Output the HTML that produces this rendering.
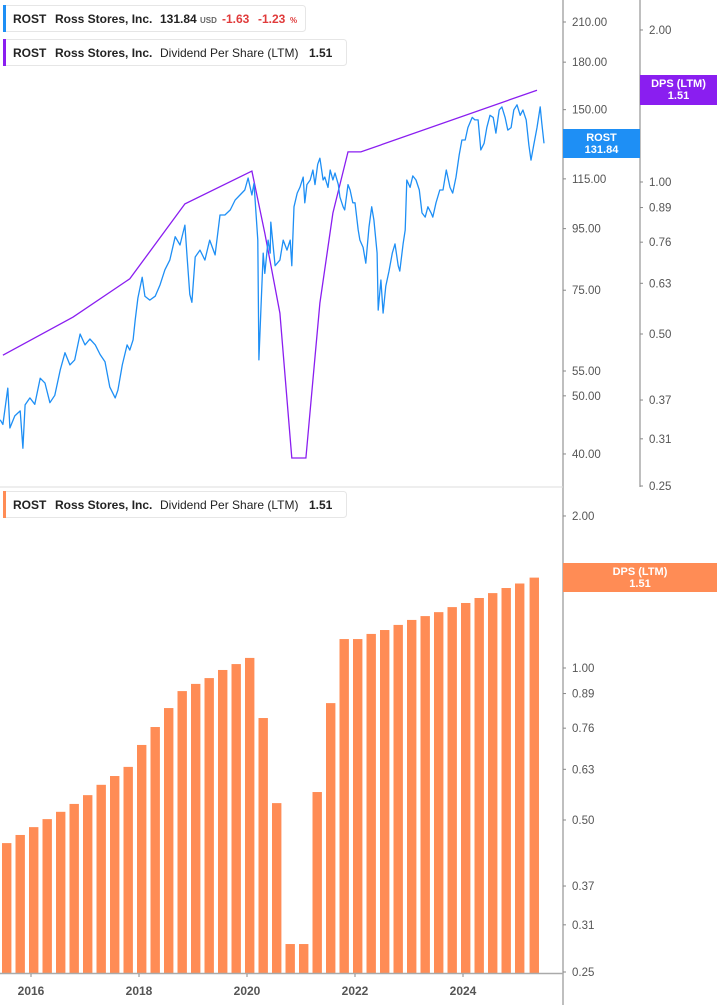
<!DOCTYPE html>
<html><head><meta charset="utf-8"><style>
body{margin:0;background:#fff;font-family:"Liberation Sans",sans-serif;}
svg{display:block}
.tk{font-size:11.5px;fill:#555}
.lg{font-size:12px;fill:#222;font-weight:bold}
.lgn{font-size:12px;fill:#222}
.yr{font-size:12px;fill:#555;font-weight:bold}
</style></head><body>
<svg id="c" width="717" height="1005"></svg>
<script>
const priceDates=[2015.43,2015.48,2015.57,2015.61,2015.70,2015.80,2015.85,2015.89,2015.98,2016.07,2016.17,2016.26,2016.35,2016.44,2016.54,2016.63,2016.72,2016.81,2016.91,2017.00,2017.09,2017.19,2017.28,2017.37,2017.46,2017.56,2017.61,2017.69,2017.78,2017.83,2017.89,2017.93,2017.98,2018.06,2018.11,2018.20,2018.30,2018.39,2018.48,2018.57,2018.67,2018.76,2018.85,2018.89,2018.94,2018.98,2019.04,2019.13,2019.22,2019.31,2019.41,2019.50,2019.59,2019.69,2019.78,2019.87,2019.96,2020.02,2020.09,2020.13,2020.20,2020.22,2020.26,2020.30,2020.33,2020.39,2020.43,2020.44,2020.52,2020.61,2020.67,2020.74,2020.80,2020.83,2020.87,2020.93,2020.98,2021.04,2021.07,2021.11,2021.17,2021.22,2021.26,2021.31,2021.35,2021.41,2021.44,2021.50,2021.54,2021.59,2021.63,2021.69,2021.72,2021.78,2021.81,2021.87,2021.91,2021.96,2022.00,2022.06,2022.09,2022.15,2022.20,2022.26,2022.31,2022.35,2022.41,2022.43,2022.48,2022.52,2022.57,2022.63,2022.69,2022.74,2022.80,2022.83,2022.89,2022.93,2022.96,2023.02,2023.07,2023.13,2023.19,2023.24,2023.30,2023.35,2023.41,2023.44,2023.50,2023.57,2023.63,2023.69,2023.76,2023.81,2023.87,2023.93,2023.98,2024.04,2024.09,2024.17,2024.22,2024.28,2024.33,2024.39,2024.44,2024.50,2024.56,2024.61,2024.67,2024.72,2024.78,2024.83,2024.89,2024.94,2025.00,2025.06,2025.11,2025.17,2025.22,2025.26,2025.31,2025.37,2025.43,2025.46,2025.50];
const priceValues=[45.6,44.8,51.5,44.2,46.3,47.2,40.9,48.3,49.6,48.4,53.5,52.5,48.7,50.1,55.2,59.0,56.3,57.4,63.4,60.8,62.2,60.8,58.6,57.0,51.7,49.6,51.1,56.3,60.8,59.6,62.0,66.9,72.8,78.8,73.3,72.2,73.3,76.6,81.1,84.2,92.1,89.2,96.3,85.2,73.8,71.6,85.2,87.5,84.2,90.9,85.9,100.1,100.1,102.1,106.0,108.1,110.2,115.4,108.1,113.0,90.9,57.4,70.3,86.5,80.0,90.9,86.5,97.4,82.4,84.2,90.9,87.5,90.9,82.4,103.3,108.9,111.3,115.8,104.9,112.5,114.5,119.0,112.5,121.6,124.5,114.5,115.8,111.3,119.0,114.5,117.6,112.5,107.3,103.3,102.1,112.5,110.2,104.9,104.9,94.5,90.9,88.4,83.2,95.6,103.3,98.2,86.5,69.5,78.0,68.7,76.2,80.7,86.5,89.6,82.4,80.7,89.6,94.5,114.5,111.3,116.3,114.5,110.2,100.9,99.3,103.3,100.9,99.3,104.9,110.2,110.2,119.0,111.3,108.9,115.8,126.1,133.5,133.5,140.0,145.6,144.2,144.2,128.5,131.8,140.0,146.8,145.6,137.1,149.8,151.6,145.6,138.7,140.0,149.8,152.8,146.8,149.8,144.2,130.8,123.6,130.8,140.0,151.6,142.4,131.84];
const dpsLineDates=[2015.48,2016.78,2017.83,2018.85,2020.09,2020.33,2020.61,2020.83,2021.09,2021.22,2021.35,2021.59,2021.87,2022.11,2025.37];
const dpsLineValues=[0.454,0.540,0.643,0.905,1.051,0.792,0.55,0.284,0.284,0.405,0.576,0.868,1.147,1.147,1.52];
const barDates=[2015.55,2015.80,2016.05,2016.30,2016.55,2016.80,2017.05,2017.30,2017.55,2017.80,2018.05,2018.30,2018.55,2018.80,2019.05,2019.30,2019.55,2019.80,2020.05,2020.30,2020.55,2020.80,2021.05,2021.30,2021.55,2021.80,2022.05,2022.30,2022.55,2022.80,2023.05,2023.30,2023.55,2023.80,2024.05,2024.30,2024.55,2024.80,2025.05,2025.32];
const barValues=[0.450,0.467,0.484,0.502,0.519,0.538,0.560,0.587,0.611,0.637,0.704,0.764,0.833,0.900,0.930,0.955,0.991,1.018,1.047,0.796,0.540,0.284,0.284,0.568,0.852,1.141,1.141,1.168,1.189,1.217,1.245,1.267,1.290,1.320,1.345,1.376,1.407,1.440,1.470,1.510];
const priceTicks=[210,180,150,115,95,75,55,50,40];
const dpsTicks=[2.00,1.00,0.89,0.76,0.63,0.50,0.37,0.31,0.25];
const yearTicks=[2016,2018,2020,2022,2024];

const svg=document.getElementById('c');const NS='http://www.w3.org/2000/svg';
function mk(t,a,p){const e=document.createElementNS(NS,t);for(const k in a)e.setAttribute(k,a[k]);(p||svg).appendChild(e);return e;}
const X=y=>31+(y-2016)*54;
const Yp=p=>22+260.5*Math.log(210/p);
const Yd=v=>486-219.3*Math.log(v/0.25);
const Yb=v=>972-219.3*Math.log(v/0.25);

// axes
let e;
e=mk('line',{x1:563,y1:0,x2:563,y2:1005,stroke:'#aaa','stroke-width':1.5});

e=mk('line',{x1:640,y1:0,x2:640,y2:487,stroke:'#aaa','stroke-width':1.5});

e=mk('line',{x1:0,y1:487,x2:563,y2:487,stroke:'#ddd','stroke-width':1});


priceTicks.forEach(t=>{const y=Yp(t);
 e=mk('line',{x1:563,y1:y,x2:566,y2:y,stroke:'#888'});
 e=mk('text',{x:572,y:y+4,class:'tk'});e.textContent=t.toFixed(2);});
dpsTicks.forEach(t=>{let y=Yd(t);
 e=mk('line',{x1:640,y1:y,x2:643,y2:y,stroke:'#888'});
 e=mk('text',{x:649,y:y+4,class:'tk'});e.textContent=t.toFixed(2);
 y=Yb(t);
 e=mk('line',{x1:563,y1:y,x2:566,y2:y,stroke:'#888'});
 e=mk('text',{x:572,y:y+4,class:'tk'});e.textContent=t.toFixed(2);});

// bars
barDates.forEach((d,i)=>{const x=X(d),y=Yb(barValues[i]);
 e=mk('rect',{x:x-4.7,y:y,width:9.4,height:973-y,fill:'#ff8c55'});
 });
e=mk('line',{x1:0,y1:973.5,x2:563,y2:973.5,stroke:'#aaa','stroke-width':1.5});

yearTicks.forEach(t=>{const x=X(t);
 e=mk('line',{x1:x,y1:974,x2:x,y2:977,stroke:'#888'});
 e=mk('text',{x:x,y:995,class:'yr','text-anchor':'middle'});e.textContent=t;});

// lines
e=mk('polyline',{points:dpsLineDates.map((d,i)=>X(d).toFixed(1)+','+Yd(dpsLineValues[i]).toFixed(1)).join(' '),fill:'none',stroke:'#8a1ef0','stroke-width':1.3});

e=mk('polyline',{points:priceDates.map((d,i)=>X(d).toFixed(1)+','+Yp(priceValues[i]).toFixed(1)).join(' '),fill:'none',stroke:'#1e8ff5','stroke-width':1.3,'stroke-linejoin':'round'});


// price labels
function tag(x,y,w,h,fill,l1,l2,name){const g=mk('g',{});
 mk('rect',{x:x,y:y,width:w,height:h,fill:fill},g);
 let t=mk('text',{x:x+w/2,y:y+12,'text-anchor':'middle','font-size':'11px','font-weight':'bold',fill:'#fff'},g);t.textContent=l1;
 t=mk('text',{x:x+w/2,y:y+24,'text-anchor':'middle','font-size':'11px','font-weight':'bold',fill:'#fff'},g);t.textContent=l2;}
tag(563,129,77,29,'#1e8ff5','ROST','131.84','price-tag');
tag(640,75,77,30,'#8a1ef0','DPS (LTM)','1.51','dps-tag');
tag(563,563,154,29,'#ff8c55','DPS (LTM)','1.51','bar-dps-tag');

// legends
function legend(y,w,color,parts,name){const g=mk('g',{});
 mk('rect',{x:3.5,y:y+0.5,width:w,height:26,rx:3,fill:'#fff',stroke:'#e6e6e6'},g);
 mk('rect',{x:3,y:y,width:3,height:27,fill:color},g);
 parts.forEach(p=>{const t=mk('text',{x:p[0],y:y+18,'font-size':p[3]||'12px','font-weight':p[2]?'bold':'normal',fill:p[4]||'#222'},g);t.textContent=p[1];});}
legend(5,302,'#1e8ff5',[[13,'ROST',1],[55,'Ross Stores, Inc.',1],[160,'131.84',1],[200,'USD',1,'8px','#666'],[222,'-1.63',1,'12px','#e03b3b'],[258,'-1.23',1,'12px','#e03b3b'],[290,'%',1,'8px','#e03b3b']],'price-legend');
legend(39,343,'#8a1ef0',[[13,'ROST',1],[55,'Ross Stores, Inc.',1],[160,'Dividend Per Share (LTM)',0],[309,'1.51',1]],'dps-line-legend');
legend(491,343,'#ff8c55',[[13,'ROST',1],[55,'Ross Stores, Inc.',1],[160,'Dividend Per Share (LTM)',0],[309,'1.51',1]],'dps-bar-legend');
</script>
</body></html>
